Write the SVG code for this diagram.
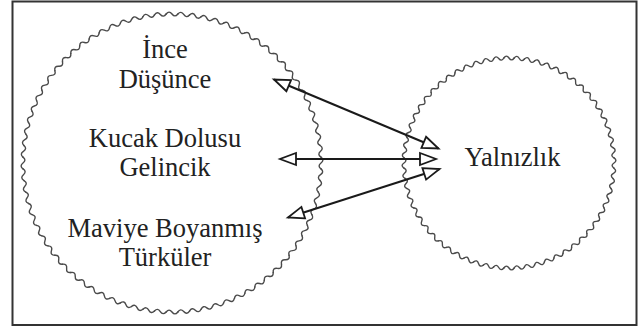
<svg xmlns="http://www.w3.org/2000/svg" width="639" height="329" viewBox="0 0 639 329">
<style>
.frame{fill:#fff;stroke:#333;stroke-width:2}
.wave{fill:none;stroke:#4a4a4a;stroke-width:1.4;stroke-linecap:round}
.lbl{font-size:26.5px;fill:#222;text-anchor:middle}
.conn{fill:none;stroke:#1a1a1a;stroke-width:2;marker-start:url(#head);marker-end:url(#head)}
</style>
<defs>
<marker id="head" markerUnits="userSpaceOnUse" markerWidth="20" markerHeight="16" refX="17" refY="7" orient="auto-start-reverse" overflow="visible">
<path d="M1,1 L17,7 L1,13 Z" fill="#fff" stroke="#1a1a1a" stroke-width="1.8"/>
</marker>
<path id="L1" class="wave" d="M-5.85,-149 Q-2.925,-152.8 0,-149 T5.85,-149"/>
<g id="L2"><use href="#L1"/><use href="#L1" transform="rotate(4.5)"/></g>
<g id="L4"><use href="#L2"/><use href="#L2" transform="rotate(9)"/></g>
<g id="L8"><use href="#L4"/><use href="#L4" transform="rotate(18)"/></g>
<g id="L16"><use href="#L8"/><use href="#L8" transform="rotate(36)"/></g>
<path id="R1" class="wave" d="M-5.15,-105 Q-2.575,-108.8 0,-105 T5.15,-105"/>
<g id="R2"><use href="#R1"/><use href="#R1" transform="rotate(5.625)"/></g>
<g id="R4"><use href="#R2"/><use href="#R2" transform="rotate(11.25)"/></g>
<g id="R8"><use href="#R4"/><use href="#R4" transform="rotate(22.5)"/></g>
<g id="R16"><use href="#R8"/><use href="#R8" transform="rotate(45)"/></g>
</defs>
<rect class="frame" x="12.5" y="1.5" width="624" height="323.5"/>
<g font-family="'Liberation Serif', 'Times New Roman', serif">
<g id="left-node">
<g transform="translate(172,163)">
<use href="#L16"/><use href="#L16" transform="rotate(72)"/><use href="#L16" transform="rotate(144)"/><use href="#L16" transform="rotate(216)"/><use href="#L16" transform="rotate(288)"/>
</g>
</g>
<g id="right-node">
<g transform="translate(509,163)">
<use href="#R16"/><use href="#R16" transform="rotate(90)"/><use href="#R16" transform="rotate(180)"/><use href="#R16" transform="rotate(270)"/>
</g>
<text class="lbl" x="512.5" y="166">Yalnızlık</text>
</g>
<g id="node-ince">
<text class="lbl" x="165" y="57.5">İnce</text>
<text class="lbl" x="165" y="87.5">Düşünce</text>
</g>
<g id="node-kucak">
<text class="lbl" x="165" y="146.5">Kucak Dolusu</text>
<text class="lbl" x="165" y="176">Gelincik</text>
</g>
<g id="node-maviye">
<text class="lbl" x="165" y="237">Maviye Boyanmış</text>
<text class="lbl" x="165" y="265.5">Türküler</text>
</g>
</g>
<g id="connectors">
<path class="conn" d="M274,79.5 L438.5,148.5"/>
<path class="conn" d="M280,159 L436,159"/>
<path class="conn" d="M288,217.5 L439.5,169"/>
</g>
</svg>
